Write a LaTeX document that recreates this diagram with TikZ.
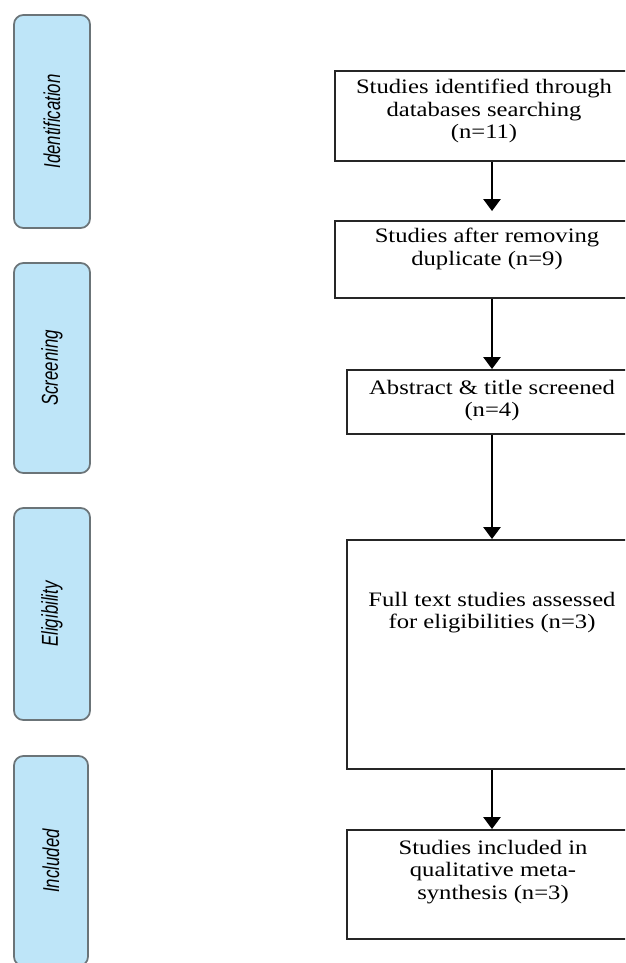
\documentclass[tikz,border=0pt]{standalone}
\usepackage{fontspec}
\usepackage{xcolor}
\usepackage{tikz}
\usetikzlibrary{arrows.meta,positioning}
\setmainfont{Liberation Serif}
\newfontfamily\boxfont[FakeStretch=1.2]{Liberation Serif}
\newfontfamily\stagefont[FakeStretch=0.73]{Liberation Sans}
\definecolor{stageblue}{HTML}{BEE5F8}
\definecolor{stageline}{HTML}{6B7478}

\begin{document}
\begin{tikzpicture}[x=0.75pt,y=-0.75pt,
stage/.style={draw=stageline,line width=1.3pt,fill=stageblue,rounded corners=7pt,
  rotate=90,minimum height=57pt,inner sep=0pt,
  font=\stagefont\itshape\fontsize{17.25}{18}\selectfont},
flowbox/.style={draw=black!85,line width=1.4pt,inner sep=0pt},
flowtext/.style={align=center,inner sep=0pt,font=\boxfont\fontsize{15.4}{16.9}\selectfont},
flowarrow/.style={line width=1.9pt,-{Triangle[width=12.75pt,length=9pt]}}]
\useasboundingbox (0,0) rectangle (625,963);
\fill[white] (0,0) rectangle (625,963);
\clip (0,0) rectangle (625,963);

\node[stage,minimum width=159.75pt] (ident) at (52,121.5) {Identification};
\node[stage,minimum width=157.5pt] (screen) at (52,368) {Screening};
\node[stage,minimum width=159pt] (elig) at (52,614) {Eligibility};
\node[stage,minimum width=157.5pt,minimum height=55.5pt] (incl) at (51,861) {Included};

\node[flowbox,minimum width=225pt,minimum height=67.5pt] (found) at (485,116) {};
\node[flowbox,minimum width=225pt,minimum height=57.75pt] (dedup) at (485,259.5) {};
\node[flowbox,minimum width=217.5pt,minimum height=48pt] (screened) at (492,402) {};
\node[flowbox,minimum width=217.5pt,minimum height=171.75pt] (fulltext) at (492,654.5) {};
\node[flowbox,minimum width=217.5pt,minimum height=81.75pt] (synth) at (492,884.5) {};

\node[flowtext] (foundtxt) at (484,111) {Studies identified through\\databases searching\\(n=11)};
\node[flowtext] (deduptxt) at (487,249) {Studies after removing\\duplicate (n=9)};
\node[flowtext] (screenedtxt) at (492,400.5) {Abstract \& title screened\\(n=4)};
\node[flowtext] (fulltexttxt) at (492,612.5) {Full text studies assessed\\for eligibilities (n=3)};
\node[flowtext] (synthtxt) at (493,872) {Studies included in\\qualitative meta-\\synthesis (n=3)};

\draw[flowarrow,shorten >=6.75pt] (found.south -| screened.north) -- (dedup.north -| screened.north);
\draw[flowarrow] (dedup.south -| screened.north) -- (screened.north);
\draw[flowarrow] (screened) -- (fulltext);
\draw[flowarrow] (fulltext) -- (synth);
\end{tikzpicture}
\end{document}
